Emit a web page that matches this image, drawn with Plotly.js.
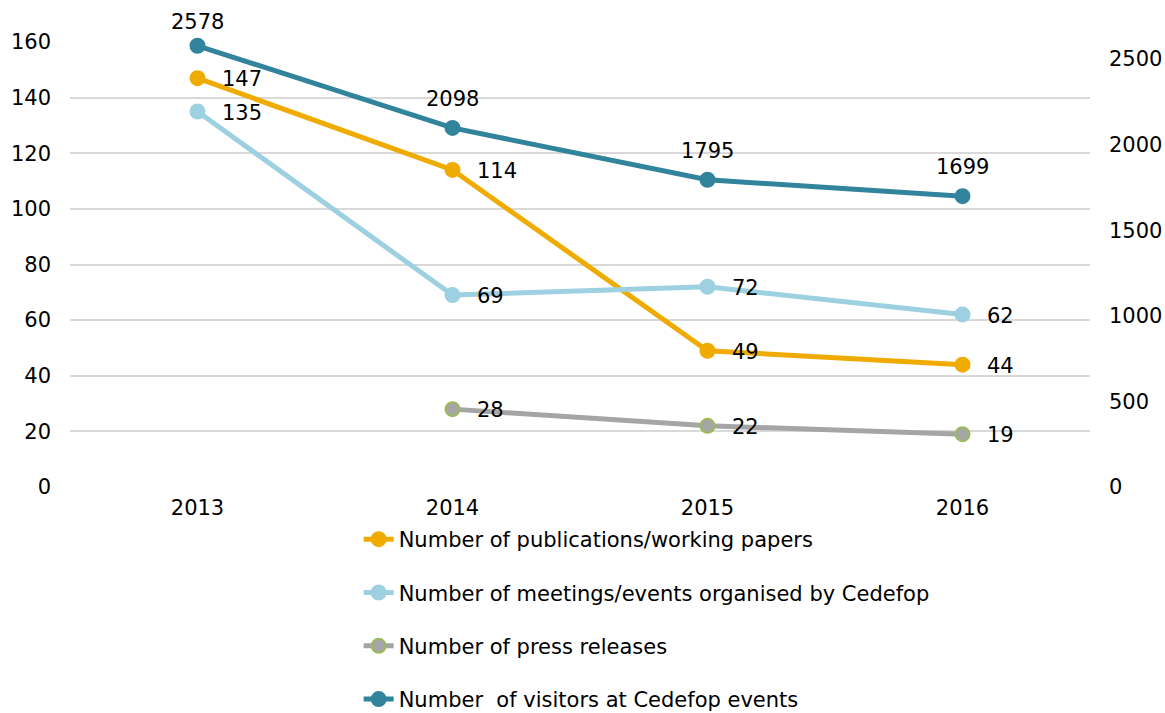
<!DOCTYPE html>
<html>
<head>
<meta charset="utf-8">
<script src="https://cdn.plot.ly/plotly-3.0.1.min.js"></script>
<style>
  html, body { margin: 0; padding: 0; background: #ffffff; }
  #chart { width: 1165px; height: 713px; }
</style>
</head>
<body>
<div id="chart"></div>
<script>
// Cedefop activity indicators, 2013-2016
const years = ['2013', '2014', '2015', '2016'];
const publications = [147, 114, 49, 44];
const meetings = [135, 69, 72, 62];
const pressReleases = [null, 28, 22, 19];
const visitors = [2578, 2098, 1795, 1699];

const leftTicks = [0, 20, 40, 60, 80, 100, 120, 140, 160];
const rightTicks = [0, 500, 1000, 1500, 2000, 2500];

const FONT = 'DejaVu Sans, Verdana, sans-serif';
const FS = 21;

function series(name, y, color, axis, edge) {
  return {
    type: 'scatter',
    mode: 'lines+markers',
    name: name,
    x: years,
    y: y,
    yaxis: axis,
    legendgroup: name,
    connectgaps: false,
    cliponaxis: false,
    line: { color: color, width: 5 },
    marker: { color: color, size: 14, line: { color: edge || color, width: 2 } },
    hoverinfo: 'skip'
  };
}

const traces = [
  series('Number of publications/working papers', publications, '#F0AB00', 'y'),
  series('Number of meetings/events organised by Cedefop', meetings, '#9DD0E0', 'y'),
  series('Number of press releases', pressReleases, '#A5A5A5', 'y', '#9BBB59'),
  series('Number  of visitors at Cedefop events', visitors, '#31849B', 'y2')
];

// value labels: right of the point for left-axis series, above for visitors
// (x given as the category index)
const annotations = [];
[publications, meetings, pressReleases].forEach(vals => {
  vals.forEach((v, i) => {
    if (v === null) return;
    annotations.push({
      x: i, y: v, xref: 'x', yref: 'y',
      text: String(v), showarrow: false,
      xanchor: 'left', yanchor: 'middle', xshift: 22, yshift: -1,
      font: { family: FONT, size: FS, color: '#000000' }
    });
  });
});
visitors.forEach((v, i) => {
  annotations.push({
    x: i, y: v, xref: 'x', yref: 'y2',
    text: String(v), showarrow: false,
    xanchor: 'center', yanchor: 'bottom', yshift: i === 0 ? 10 : 15,
    font: { family: FONT, size: FS, color: '#000000' }
  });
});

const layout = {
  width: 1165,
  height: 713,
  paper_bgcolor: '#ffffff',
  plot_bgcolor: '#ffffff',
  margin: { l: 70, r: 75, t: 42, b: 226, autoexpand: false },
  font: { family: FONT, size: FS, color: '#000000' },
  showlegend: true,
  legend: {
    orientation: 'v',
    x: 0.283, xanchor: 'left',
    y: -0.072, yanchor: 'top',
    tracegroupgap: 23,
    font: { family: FONT, size: FS, color: '#000000' },
    bgcolor: 'rgba(0,0,0,0)'
  },
  xaxis: {
    type: 'category',
    range: [-0.5, 3.5],
    showgrid: false,
    zeroline: false,
    showline: false,
    ticks: '',
    tickfont: { family: FONT, size: FS, color: '#000000' },
    ticklabelstandoff: 6
  },
  yaxis: {
    range: [0, 160],
    tickvals: leftTicks,
    ticktext: leftTicks.map(String),
    showgrid: true,
    gridcolor: '#D9D9D9',
    gridwidth: 2,
    zeroline: false,
    showline: false,
    ticks: '',
    ticklabelstandoff: 18,
    tickfont: { family: FONT, size: FS, color: '#000000' }
  },
  yaxis2: {
    overlaying: 'y',
    side: 'right',
    range: [0, 2600],
    tickvals: rightTicks,
    ticktext: rightTicks.map(String),
    showgrid: false,
    zeroline: false,
    showline: false,
    ticks: '',
    ticklabelstandoff: 18,
    tickfont: { family: FONT, size: FS, color: '#000000' }
  },
  annotations: annotations
};

Plotly.newPlot('chart', traces, layout, { displayModeBar: false, staticPlot: true });
</script>
</body>
</html>
